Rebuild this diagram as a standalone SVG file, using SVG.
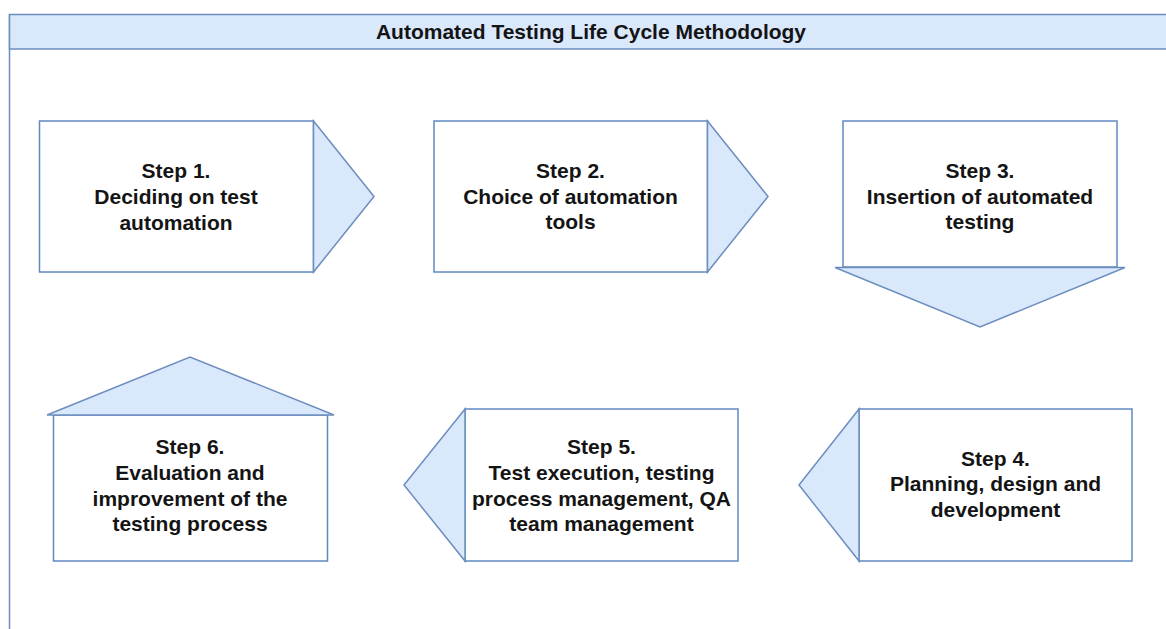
<svg xmlns="http://www.w3.org/2000/svg" width="1166" height="629" viewBox="0 0 1166 629">
<style>
.box{fill:#ffffff;stroke:#5f88c2;stroke-width:1.5}
.arr{fill:#dae8fc;stroke:#6c8ebf;stroke-width:1.5;stroke-linejoin:miter}
.hdr{fill:#dae8fc;stroke:#6c8ebf;stroke-width:1.5}
.frame{fill:none;stroke:#6c8ebf;stroke-width:1.5}
.t{font-family:"Liberation Sans",Arial,sans-serif;font-weight:bold;font-size:21px;fill:#141414;text-anchor:middle}
</style>
<rect width="1166" height="629" fill="#ffffff"/>
<g id="container">
<line class="frame" x1="9.5" y1="14.5" x2="9.5" y2="640"/>
<rect class="hdr" x="9.5" y="14.5" width="1170" height="34.5"/>
<text class="t" x="591" y="39">Automated Testing Life Cycle Methodology</text>
</g>
<g id="connectors"></g>
<g id="step1">
<rect class="box" x="39.5" y="121" width="274" height="151"/>
<polygon class="arr" points="313.5,121 374,196.5 313.5,272"/>
<text class="t" x="176" y="178">Step 1.</text>
<text class="t" x="176" y="204">Deciding on test</text>
<text class="t" x="176" y="230">automation</text>
</g>
<g id="step2">
<rect class="box" x="434" y="121" width="273.5" height="151"/>
<polygon class="arr" points="707.5,121 768,196.5 707.5,272"/>
<text class="t" x="570.5" y="178">Step 2.</text>
<text class="t" x="570.5" y="204">Choice of automation</text>
<text class="t" x="570.5" y="229">tools</text>
</g>
<g id="step3">
<rect class="box" x="843" y="121" width="274" height="146"/>
<polygon class="arr" points="835,267.5 1125,267.5 980,327"/>
<text class="t" x="980" y="178">Step 3.</text>
<text class="t" x="980" y="204">Insertion of automated</text>
<text class="t" x="980" y="229">testing</text>
</g>
<g id="step4">
<rect class="box" x="859" y="409" width="273" height="152"/>
<polygon class="arr" points="859,409 799,485 859,561"/>
<text class="t" x="995.5" y="466">Step 4.</text>
<text class="t" x="995.5" y="491">Planning, design and</text>
<text class="t" x="995.5" y="517">development</text>
</g>
<g id="step5">
<rect class="box" x="465" y="409" width="273" height="152"/>
<polygon class="arr" points="465,409 404,485 465,561"/>
<text class="t" x="601.5" y="454">Step 5.</text>
<text class="t" x="601.5" y="480">Test execution, testing</text>
<text class="t" x="601.5" y="506">process management, QA</text>
<text class="t" x="601.5" y="531">team management</text>
</g>
<g id="step6">
<rect class="box" x="53.5" y="415" width="274" height="146"/>
<polygon class="arr" points="47,415 334,415 190,357"/>
<text class="t" x="190" y="454">Step 6.</text>
<text class="t" x="190" y="480">Evaluation and</text>
<text class="t" x="190" y="506">improvement of the</text>
<text class="t" x="190" y="531">testing process</text>
</g>
</svg>
